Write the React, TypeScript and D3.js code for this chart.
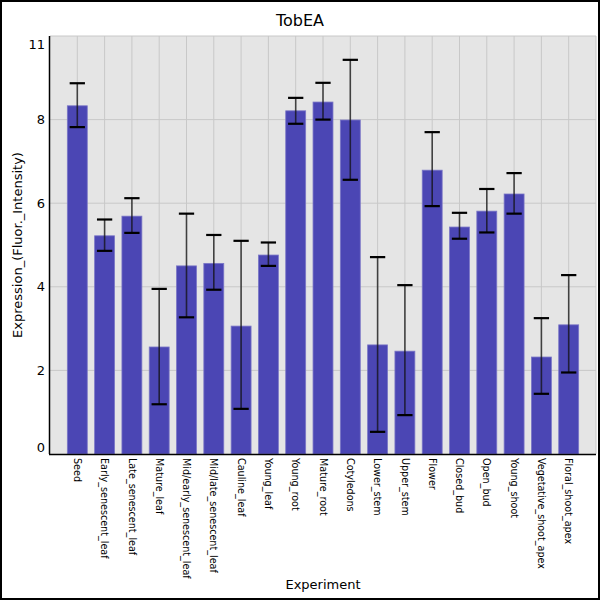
import { useEffect, useRef } from "react";
import * as d3 from "d3";

const categories = [
  "Seed",
  "Early_senescent_leaf",
  "Late_senescent_leaf",
  "Mature_leaf",
  "Mid/early_senescent_leaf",
  "Mid/late_senescent_leaf",
  "Cauline_leaf",
  "Young_leaf",
  "Young_root",
  "Mature_root",
  "Cotyledons",
  "Lower_stem",
  "Upper_stem",
  "Flower",
  "Closed_bud",
  "Open_bud",
  "Young_shoot",
  "Vegetative_shoot_apex",
  "Floral_shoot_apex",
];

const means = [8.33, 5.22, 5.69, 2.56, 4.5, 4.56, 3.06, 4.76, 8.21, 8.42, 7.99, 2.61, 2.46, 6.79, 5.43, 5.81, 6.22, 2.32, 3.09];
const upper = [8.87, 5.61, 6.12, 3.95, 5.75, 5.24, 5.1, 5.06, 8.52, 8.88, 9.43, 4.71, 4.04, 7.7, 5.77, 6.34, 6.72, 3.25, 4.28];
const lower = [7.82, 4.86, 5.29, 1.19, 3.27, 3.93, 1.08, 4.5, 7.9, 8.0, 6.56, 0.53, 0.93, 5.93, 5.15, 5.3, 5.75, 1.44, 1.95];

const yTicks = [0, 2, 4, 6, 8, 10];
const yTickLabels = ["0", "2", "4", "6", "8", "11"];

export default function App() {
  const svgRef = useRef<SVGSVGElement>(null);

  useEffect(() => {
    document.body.style.margin = "0";
    if (!svgRef.current) return;
    const svg = d3.select(svgRef.current);
    svg.selectAll("*").remove();

    const width = 600;
    const height = 600;
    const margin = { top: 36, right: 4, bottom: 146, left: 50 };
    const innerW = width - margin.left - margin.right;
    const innerH = height - margin.top - margin.bottom;
    const font = "DejaVu Sans, sans-serif";

    svg.attr("width", width).attr("height", height).style("display", "block");

    svg.append("rect")
      .attr("width", width)
      .attr("height", height)
      .attr("fill", "white");

    const g = svg.append("g").attr("transform", `translate(${margin.left},${margin.top})`);

    const x = d3.scaleLinear().domain([0, categories.length + 1]).range([0, innerW]);
    const y = d3.scaleLinear().domain([0, 10]).range([innerH, 0]);
    const step = x(1) - x(0);
    const barW = step * 0.73;
    const capW = step * 0.56;

    // plot background
    g.append("rect")
      .attr("width", innerW)
      .attr("height", innerH)
      .attr("fill", "#e5e5e5");

    // grid
    g.append("g")
      .selectAll("line")
      .data(yTicks.slice(1))
      .join("line")
      .attr("x1", 0)
      .attr("x2", innerW)
      .attr("y1", (d) => y(d))
      .attr("y2", (d) => y(d))
      .attr("stroke", "#c8c8c8")
      .attr("stroke-width", 1);

    g.append("g")
      .selectAll("line")
      .data(d3.range(1, categories.length + 2))
      .join("line")
      .attr("x1", (d) => x(d))
      .attr("x2", (d) => x(d))
      .attr("y1", 0)
      .attr("y2", innerH)
      .attr("stroke", "#c8c8c8")
      .attr("stroke-width", 1);

    // bars
    g.append("g")
      .selectAll("rect")
      .data(categories)
      .join("rect")
      .attr("x", (_, i) => x(i + 1) - barW / 2)
      .attr("y", (_, i) => y(means[i]))
      .attr("width", barW)
      .attr("height", (_, i) => innerH - y(means[i]))
      .attr("fill", "#4b46b4")
      .attr("stroke", "#7a76c6")
      .attr("stroke-width", 0.8);

    // error bars
    const eb = g.append("g").selectAll("g").data(categories).join("g");
    eb.append("line")
      .attr("x1", (_, i) => x(i + 1))
      .attr("x2", (_, i) => x(i + 1))
      .attr("y1", (_, i) => y(upper[i]))
      .attr("y2", (_, i) => y(lower[i]))
      .attr("stroke", "#111")
      .attr("stroke-opacity", 0.75)
      .attr("stroke-width", 1.6);
    eb.append("line")
      .attr("x1", (_, i) => x(i + 1) - capW / 2)
      .attr("x2", (_, i) => x(i + 1) + capW / 2)
      .attr("y1", (_, i) => y(upper[i]))
      .attr("y2", (_, i) => y(upper[i]))
      .attr("stroke", "#000")
      .attr("stroke-width", 2.2);
    eb.append("line")
      .attr("x1", (_, i) => x(i + 1) - capW / 2)
      .attr("x2", (_, i) => x(i + 1) + capW / 2)
      .attr("y1", (_, i) => y(lower[i]))
      .attr("y2", (_, i) => y(lower[i]))
      .attr("stroke", "#000")
      .attr("stroke-width", 2.2);

    // axes lines
    g.append("line")
      .attr("x1", -0.5).attr("x2", -0.5)
      .attr("y1", 0).attr("y2", innerH)
      .attr("stroke", "#000").attr("stroke-width", 1.5);
    g.append("line")
      .attr("x1", -1).attr("x2", innerW)
      .attr("y1", innerH + 0.5).attr("y2", innerH + 0.5)
      .attr("stroke", "#000").attr("stroke-width", 1.5);

    // y tick labels
    g.append("g")
      .selectAll("text")
      .data(yTicks)
      .join("text")
      .attr("x", -5)
      .attr("y", (d, i) => y(d) + (i === 0 ? -6.5 : i === yTicks.length - 1 ? 8 : 0))
      .attr("dy", "0.35em")
      .attr("text-anchor", "end")
      .attr("font-family", font)
      .attr("font-size", 13)
      .attr("fill", "#000")
      .text((_, i) => yTickLabels[i]);

    // x tick labels
    g.append("g")
      .selectAll("text")
      .data(categories)
      .join("text")
      .attr("transform", (_, i) => `translate(${x(i + 1)},${innerH + 4}) rotate(90)`)
      .attr("dy", "0.35em")
      .attr("text-anchor", "start")
      .attr("font-family", font)
      .attr("font-size", 9.6)
      .attr("fill", "#000")
      .text((d) => d);

    // titles
    svg.append("text")
      .attr("x", width / 2)
      .attr("y", 26)
      .attr("text-anchor", "middle")
      .attr("font-family", font)
      .attr("font-size", 16)
      .text("TobEA");

    svg.append("text")
      .attr("x", margin.left + innerW / 2)
      .attr("y", 589)
      .attr("text-anchor", "middle")
      .attr("font-family", font)
      .attr("font-size", 13)
      .text("Experiment");

    svg.append("text")
      .attr("transform", `translate(22,${margin.top + innerH / 2}) rotate(-90)`)
      .attr("text-anchor", "middle")
      .attr("font-family", font)
      .attr("font-size", 13)
      .text("Expression_(Fluor._Intensity)");

    // outer frame
    svg.append("rect")
      .attr("x", 1)
      .attr("y", 1)
      .attr("width", width - 2)
      .attr("height", height - 2)
      .attr("fill", "none")
      .attr("stroke", "#000")
      .attr("stroke-width", 2);
  }, []);

  return <svg ref={svgRef} />;
}
